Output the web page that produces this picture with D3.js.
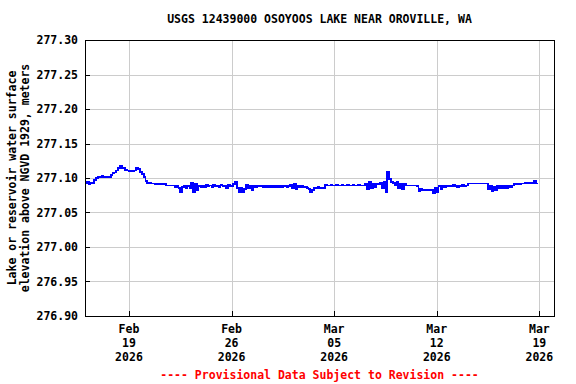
<!DOCTYPE html>
<html><head><meta charset="utf-8">
<script src="https://cdn.jsdelivr.net/npm/d3@7"></script>
<style>body{margin:0;background:#fff}svg{display:block}</style>
</head><body><svg id="c" width="576" height="384"></svg>
<script>
const title = "USGS 12439000 OSOYOOS LAKE NEAR OROVILLE, WA";
const yLabelLines = ["Lake or reservoir water surface", "elevation above NGVD 1929, meters"];
const footer = "---- Provisional Data Subject to Revision ----";
const yTicks = [276.90, 276.95, 277.00, 277.05, 277.10, 277.15, 277.20, 277.25, 277.30];
const yTickLabels = ["276.90", "276.95", "277.00", "277.05", "277.10", "277.15", "277.20", "277.25", "277.30"];
const xTickDates = ["2026-02-19", "2026-02-26", "2026-03-05", "2026-03-12", "2026-03-19"];
const xTickLabels = [["Feb","19","2026"],["Feb","26","2026"],["Mar","05","2026"],["Mar","12","2026"],["Mar","19","2026"]];
const xDomain = ["2026-02-16", "2026-03-20"];
const seriesStart = "2026-02-16T00:00:00Z";
const stepHours = 3;
const baseElev = 277.0;
// water surface elevation, millimetres above 277.000 m, one value every 3 hours
const elevMM = [
  92, 94, 91, 93, 92, 97, 100, 101,
  101, 103, 101, 101, 101, 101, 104, 107,
  108, 111, 114, 118, 114, 114, 112, 111,
  110, 110, 110, 111, 115, 113, 109, 106,
  101, 96, 93, 93, 92, 92, 91, 91,
  91, 91, 91, 91, 89, 89, 89, 89,
  89, 87, 89, 86, 80, 87, 88, 86,
  88, 86, 93, 80, 91, 82, 88, 87,
  89, 87, 90, 88, 89, 87, 90, 88,
  89, 87, 90, 88, 89, 86, 90, 88,
  88, 91, 94, 86, 80, 85, 79, 84,
  90, 86, 88, 82, 89, 87, 88, 89,
  88, 87, 88, 87, 88, 87, 88, 87,
  88, 87, 88, 87, 88, 88, 87, 88,
  90, 86, 91, 84, 89, 87, 88, 87,
  87, 86, 84, 80, 83, 86, 86, 87,
  86, 85, 86, 90, 89, 89, 90, 89,
  89, 90, 89, 89, 90, 89, 89, 90,
  89, 89, 90, 89, 89, 90, 89, 89,
  89, 92, 84, 95, 85, 92, 87, 91,
  91, 93, 86, 95, 80, 109, 98, 94,
  93, 90, 94, 85, 92, 84, 91, 89,
  89, 89, 89, 89, 89, 88, 81, 84,
  83, 83, 83, 83, 83, 83, 78, 86,
  80, 88, 84, 88, 87, 89, 88, 88,
  88, 90, 88, 87, 89, 88, 90, 88,
  89, 92, 92, 92, 92, 92, 92, 92,
  92, 92, 92, 92, 84, 89, 81, 87,
  82, 88, 85, 88, 86, 89, 86, 88,
  87, 89, 92, 91, 92, 91, 92, 92,
  93, 93, 93, 93, 93, 96, 92, 92
];

const svg = d3.select("#c");
const L = 85, R = 554, T = 40, B = 316;
const font = "'DejaVu Sans Mono', 'Liberation Mono', monospace";

const t0 = new Date(seriesStart).getTime();
const data = elevMM.map((v, i) => ({ t: new Date(t0 + i * stepHours * 3600e3), v: baseElev + v / 1000 }));

const x = d3.scaleUtc().domain(xDomain.map(d => new Date(d + "T00:00:00Z"))).range([L, R]);
const y = d3.scaleLinear().domain([276.9, 277.3]).range([B, T]);
const xt = xTickDates.map(d => new Date(d + "T00:00:00Z"));

svg.append("rect").attr("width", 576).attr("height", 384).attr("fill", "#fff");

// gridlines
const grid = svg.append("g").attr("stroke", "#cccccc").attr("stroke-width", 1).attr("shape-rendering", "crispEdges");
grid.selectAll("line.v").data(xt).join("line").attr("class", "v")
  .attr("x1", d => Math.round(x(d)) + 0.5).attr("x2", d => Math.round(x(d)) + 0.5).attr("y1", T).attr("y2", B);
grid.selectAll("line.h").data(yTicks.slice(1, -1)).join("line").attr("class", "h")
  .attr("y1", d => Math.round(y(d)) + 0.5).attr("y2", d => Math.round(y(d)) + 0.5).attr("x1", L).attr("x2", R);

// data line
svg.append("defs").append("clipPath").attr("id", "clip").append("rect")
  .attr("x", L).attr("y", T).attr("width", R - L).attr("height", B - T);
svg.append("path").datum(data).attr("clip-path", "url(#clip)")
  .attr("fill", "none").attr("stroke", "#0000ff").attr("stroke-width", 1.8)
  .attr("shape-rendering", "crispEdges")
  .attr("d", d3.line().curve(d3.curveStepAfter).x(d => x(d.t)).y(d => y(d.v)));

// frame
svg.append("rect").attr("x", L + 0.5).attr("y", T + 0.5).attr("width", R - L).attr("height", B - T)
  .attr("fill", "none").attr("stroke", "#000").attr("stroke-width", 1).attr("shape-rendering", "crispEdges");

// y axis ticks and labels
const ya = svg.append("g");
ya.selectAll("line").data(yTicks).join("line")
  .attr("x1", L).attr("x2", L + 5)
  .attr("y1", d => Math.round(y(d)) + 0.5).attr("y2", d => Math.round(y(d)) + 0.5)
  .attr("stroke", "#000").attr("shape-rendering", "crispEdges");
ya.selectAll("text").data(yTicks).join("text")
  .attr("x", 78).attr("y", d => y(d)).attr("dy", "0.36em")
  .attr("text-anchor", "end").attr("font-family", font).attr("font-weight", "bold").attr("font-size", 11.5)
  .text((d, i) => yTickLabels[i]);

// x axis ticks and labels
const xa = svg.append("g");
xa.selectAll("line").data(xt).join("line")
  .attr("x1", d => Math.round(x(d)) + 0.5).attr("x2", d => Math.round(x(d)) + 0.5)
  .attr("y1", B - 5).attr("y2", B).attr("stroke", "#000").attr("shape-rendering", "crispEdges");
xt.forEach((d, i) => {
  const tx = xa.append("text").attr("x", x(d)).attr("y", 333)
    .attr("text-anchor", "middle").attr("font-family", font).attr("font-weight", "bold").attr("font-size", 11.5);
  xTickLabels[i].forEach((s, j) => tx.append("tspan").attr("x", x(d)).attr("dy", j === 0 ? 0 : 14).text(s));
});

// title
svg.append("text").attr("x", (L + R) / 2).attr("y", 23).attr("text-anchor", "middle")
  .attr("font-family", font).attr("font-weight", "bold").attr("font-size", 11.5).text(title);

// y label
const yl = svg.append("text").attr("transform", `translate(0, ${(T + B) / 2}) rotate(-90)`)
  .attr("text-anchor", "middle").attr("font-family", font).attr("font-weight", "bold").attr("font-size", 11.5);
yLabelLines.forEach((s, j) => yl.append("tspan").attr("x", 0).attr("y", j === 0 ? 16 : 29).text(s));

// footer
svg.append("text").attr("x", (L + R) / 2).attr("y", 379).attr("text-anchor", "middle")
  .attr("font-family", font).attr("font-weight", "bold").attr("font-size", 11.5).attr("fill", "#ff0000").text(footer);
</script>
</body></html>
